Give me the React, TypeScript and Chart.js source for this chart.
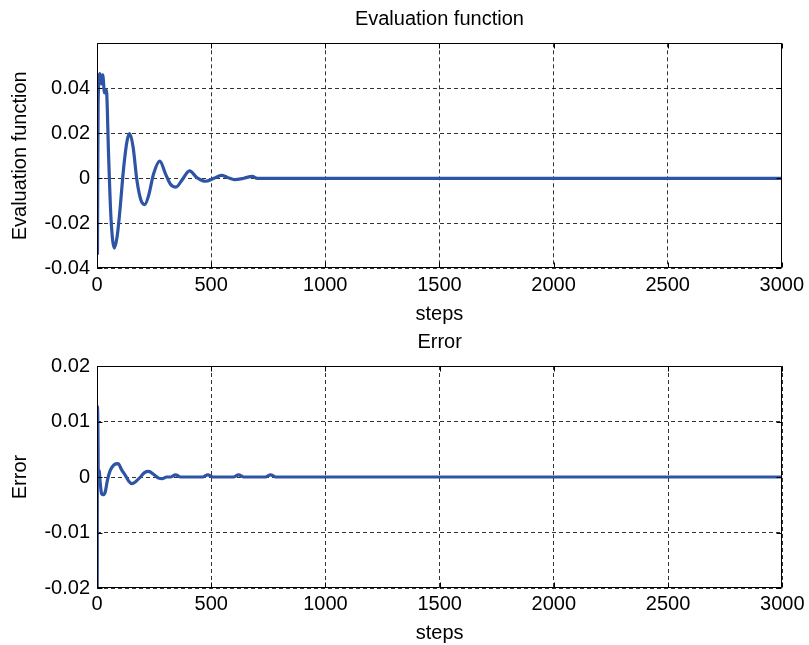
import React, { useEffect, useRef } from "react";
import { Chart, registerables } from "chart.js";

Chart.register(...registerables);

// ---- Data ----
const evalSteps = [2, 5, 13, 19, 25, 33, 41, 51, 61, 76, 88, 99, 117, 132, 143, 158, 175, 193, 209, 226, 248, 275, 300, 321, 346, 373, 405, 439, 475, 512, 545, 572, 602, 643, 680, 702, 3000];
const evalValues = [-0.034, 0.034, 0.0465, 0.042, 0.046, 0.038, 0.0392, 0.0095, -0.0172, -0.031, -0.026, -0.0158, 0.0049, 0.0168, 0.0199, 0.014, -0.001, -0.0099, -0.0117, -0.0077, 0.002, 0.0076, 0.002, -0.0025, -0.0039, -0.0007, 0.0033, 0.0002, -0.0013, 0.0, 0.0013, 0.0004, -0.0006, 0.0, 0.0009, 0.0, 0.0];

const errSteps = [1, 2, 4, 6, 9, 14, 20, 26, 36, 46, 58, 75, 92, 108, 124, 140, 153, 170, 190, 208, 226, 250, 270, 285, 305, 322, 344, 366, 462, 485, 508, 597, 620, 643, 737, 760, 783, 3000];
const errValues = [-0.022, 0.0127, 0.0085, -0.0006, 0.0012, -0.001, -0.003, -0.0032, -0.0027, -0.0005, 0.0012, 0.0022, 0.0024, 0.0013, 0.0003, -0.0008, -0.0012, -0.0008, 0.0, 0.0008, 0.001, 0.0004, -0.0002, -0.0003, 0.0, 0.0, 0.0004, 0.0, 0.0, 0.0004, 0.0, 0.0, 0.0004, 0.0, 0.0, 0.0004, 0.0, 0.0];

const xTicks = [0, 500, 1000, 1500, 2000, 2500, 3000];
const evalYTicks = [-0.04, -0.02, 0, 0.02, 0.04, 0.06];
const errYTicks = [-0.02, -0.01, 0, 0.01, 0.02];

const FONT = "'Liberation Sans', Arial, Helvetica, sans-serif";
const LINE_COLOR = "rgb(46, 84, 165)";

const boxPlugin = {
  id: "matlabBox",
  afterDraw(chart: any) {
    const { ctx, chartArea } = chart;
    const { left, right, top, bottom } = chartArea;
    const xs = chart.scales.x;
    const ys = chart.scales.y;
    const yVals: number[] = chart.options.plugins.matlabBox.yTicks;
    ctx.save();
    ctx.strokeStyle = "#000";
    ctx.lineWidth = 1;
    ctx.setLineDash([]);
    ctx.beginPath();
    const L = Math.round(left) + 0.5;
    const R = Math.round(right) - 0.5;
    const T = Math.round(top) + 0.5;
    const B = Math.round(bottom) - 0.5;
    ctx.rect(L, T, R - L, B - T);
    const tl = 5;
    xTicks.forEach((v) => {
      const p = Math.round(xs.getPixelForValue(v)) + 0.5;
      ctx.moveTo(p, B);
      ctx.lineTo(p, B - tl);
      ctx.moveTo(p, T);
      ctx.lineTo(p, T + tl);
    });
    yVals.forEach((v) => {
      const p = Math.round(ys.getPixelForValue(v)) + 0.5;
      ctx.moveTo(L, p);
      ctx.lineTo(L + tl, p);
      ctx.moveTo(R, p);
      ctx.lineTo(R - tl, p);
    });
    ctx.stroke();
    ctx.restore();
  },
};

function makeConfig(opts: {
  steps: number[];
  values: number[];
  title: string;
  yLabel: string;
  yMin: number;
  yMax: number;
  yTicks: number[];
  hideTop: boolean;
  titlePad: { top: number; bottom: number };
  xHeight: number;
  xTickPad: number;
  xTitlePadBottom: number;
}) {
  const data = opts.steps.map((s, i) => ({ x: s, y: opts.values[i] }));
  const font = { family: FONT, size: 20, weight: "normal" as const };
  return {
    type: "line" as const,
    data: {
      datasets: [
        {
          data,
          borderColor: LINE_COLOR,
          borderWidth: 3.2,
          pointRadius: 0,
          fill: false,
          cubicInterpolationMode: "monotone" as const,
        },
      ],
    },
    plugins: [boxPlugin],
    options: {
      animation: false as const,
      responsive: false,
      maintainAspectRatio: false,
      layout: { padding: { left: 0, right: 24, top: 0, bottom: 0 } },
      plugins: {
        legend: { display: false },
        tooltip: { enabled: false },
        title: {
          display: true,
          text: opts.title,
          color: "#000",
          font,
          fullSize: false,
          padding: opts.titlePad,
        },
        matlabBox: { yTicks: opts.yTicks },
      },
      scales: {
        x: {
          type: "linear" as const,
          min: 0,
          max: 3000,
          afterBuildTicks: (s: any) => {
            s.ticks = xTicks.map((v) => ({ value: v }));
          },
          afterFit: (s: any) => {
            s.height = opts.xHeight;
          },
          ticks: {
            color: "#000",
            font,
            padding: opts.xTickPad,
            maxRotation: 0,
            autoSkip: false,
            callback: (v: any) => String(v),
          },
          grid: {
            color: "rgba(0,0,0,0.8)",
            lineWidth: 1,
            drawTicks: false,
          },
          border: { display: false, dash: [4, 3] },
          title: {
            display: true,
            text: "steps",
            color: "#000",
            font,
            padding: { top: 0, bottom: opts.xTitlePadBottom },
          },
        },
        y: {
          type: "linear" as const,
          min: opts.yMin,
          max: opts.yMax,
          afterBuildTicks: (s: any) => {
            s.ticks = opts.yTicks
              .filter((v) => !(opts.hideTop && v === opts.yMax))
              .map((v) => ({ value: v }));
          },
          afterFit: (s: any) => {
            s.width = 97;
          },
          ticks: {
            color: "#000",
            font,
            padding: 7,
            autoSkip: false,
            callback: (v: any) => {
              const n = Number(v);
              if (Math.abs(n) < 1e-9) return "0";
              return String(parseFloat(n.toFixed(3)));
            },
          },
          grid: {
            color: "rgba(0,0,0,0.8)",
            lineWidth: 1,
            drawTicks: false,
          },
          border: { display: false, dash: [4, 3] },
          title: {
            display: true,
            text: opts.yLabel,
            color: "#000",
            font,
            padding: { top: 8, bottom: 0 },
          },
        },
      },
    },
  };
}

function ChartCanvas(props: { height: number; top: number; config: any }) {
  const ref = useRef<HTMLCanvasElement | null>(null);
  useEffect(() => {
    if (!ref.current) return;
    const chart = new Chart(ref.current, props.config);
    return () => chart.destroy();
  }, []);
  return (
    <canvas
      ref={ref}
      width={809}
      height={props.height}
      style={{ position: "absolute", left: 0, top: props.top, width: 809, height: props.height, display: "block" }}
    />
  );
}

export default function App() {
  const topConfig = makeConfig({
    steps: evalSteps,
    values: evalValues,
    title: "Evaluation function",
    yLabel: "Evaluation function",
    yMin: -0.04,
    yMax: 0.06,
    yTicks: evalYTicks,
    hideTop: true,
    titlePad: { top: 7.5, bottom: 11.8 },
    xHeight: 61.7,
    xTickPad: 5,
    xTitlePadBottom: 4,
  });
  const bottomConfig = makeConfig({
    steps: errSteps,
    values: errValues,
    title: "Error",
    yLabel: "Error",
    yMin: -0.02,
    yMax: 0.02,
    yTicks: errYTicks,
    hideTop: false,
    titlePad: { top: 0, bottom: 12 },
    xHeight: 57,
    xTickPad: 4.5,
    xTitlePadBottom: 0,
  });
  return (
    <div style={{ position: "absolute", left: 0, top: 0, width: 809, height: 645, background: "#fff" }}>
      <ChartCanvas height={330} top={0} config={topConfig} />
      <ChartCanvas height={315} top={330} config={bottomConfig} />
    </div>
  );
}
